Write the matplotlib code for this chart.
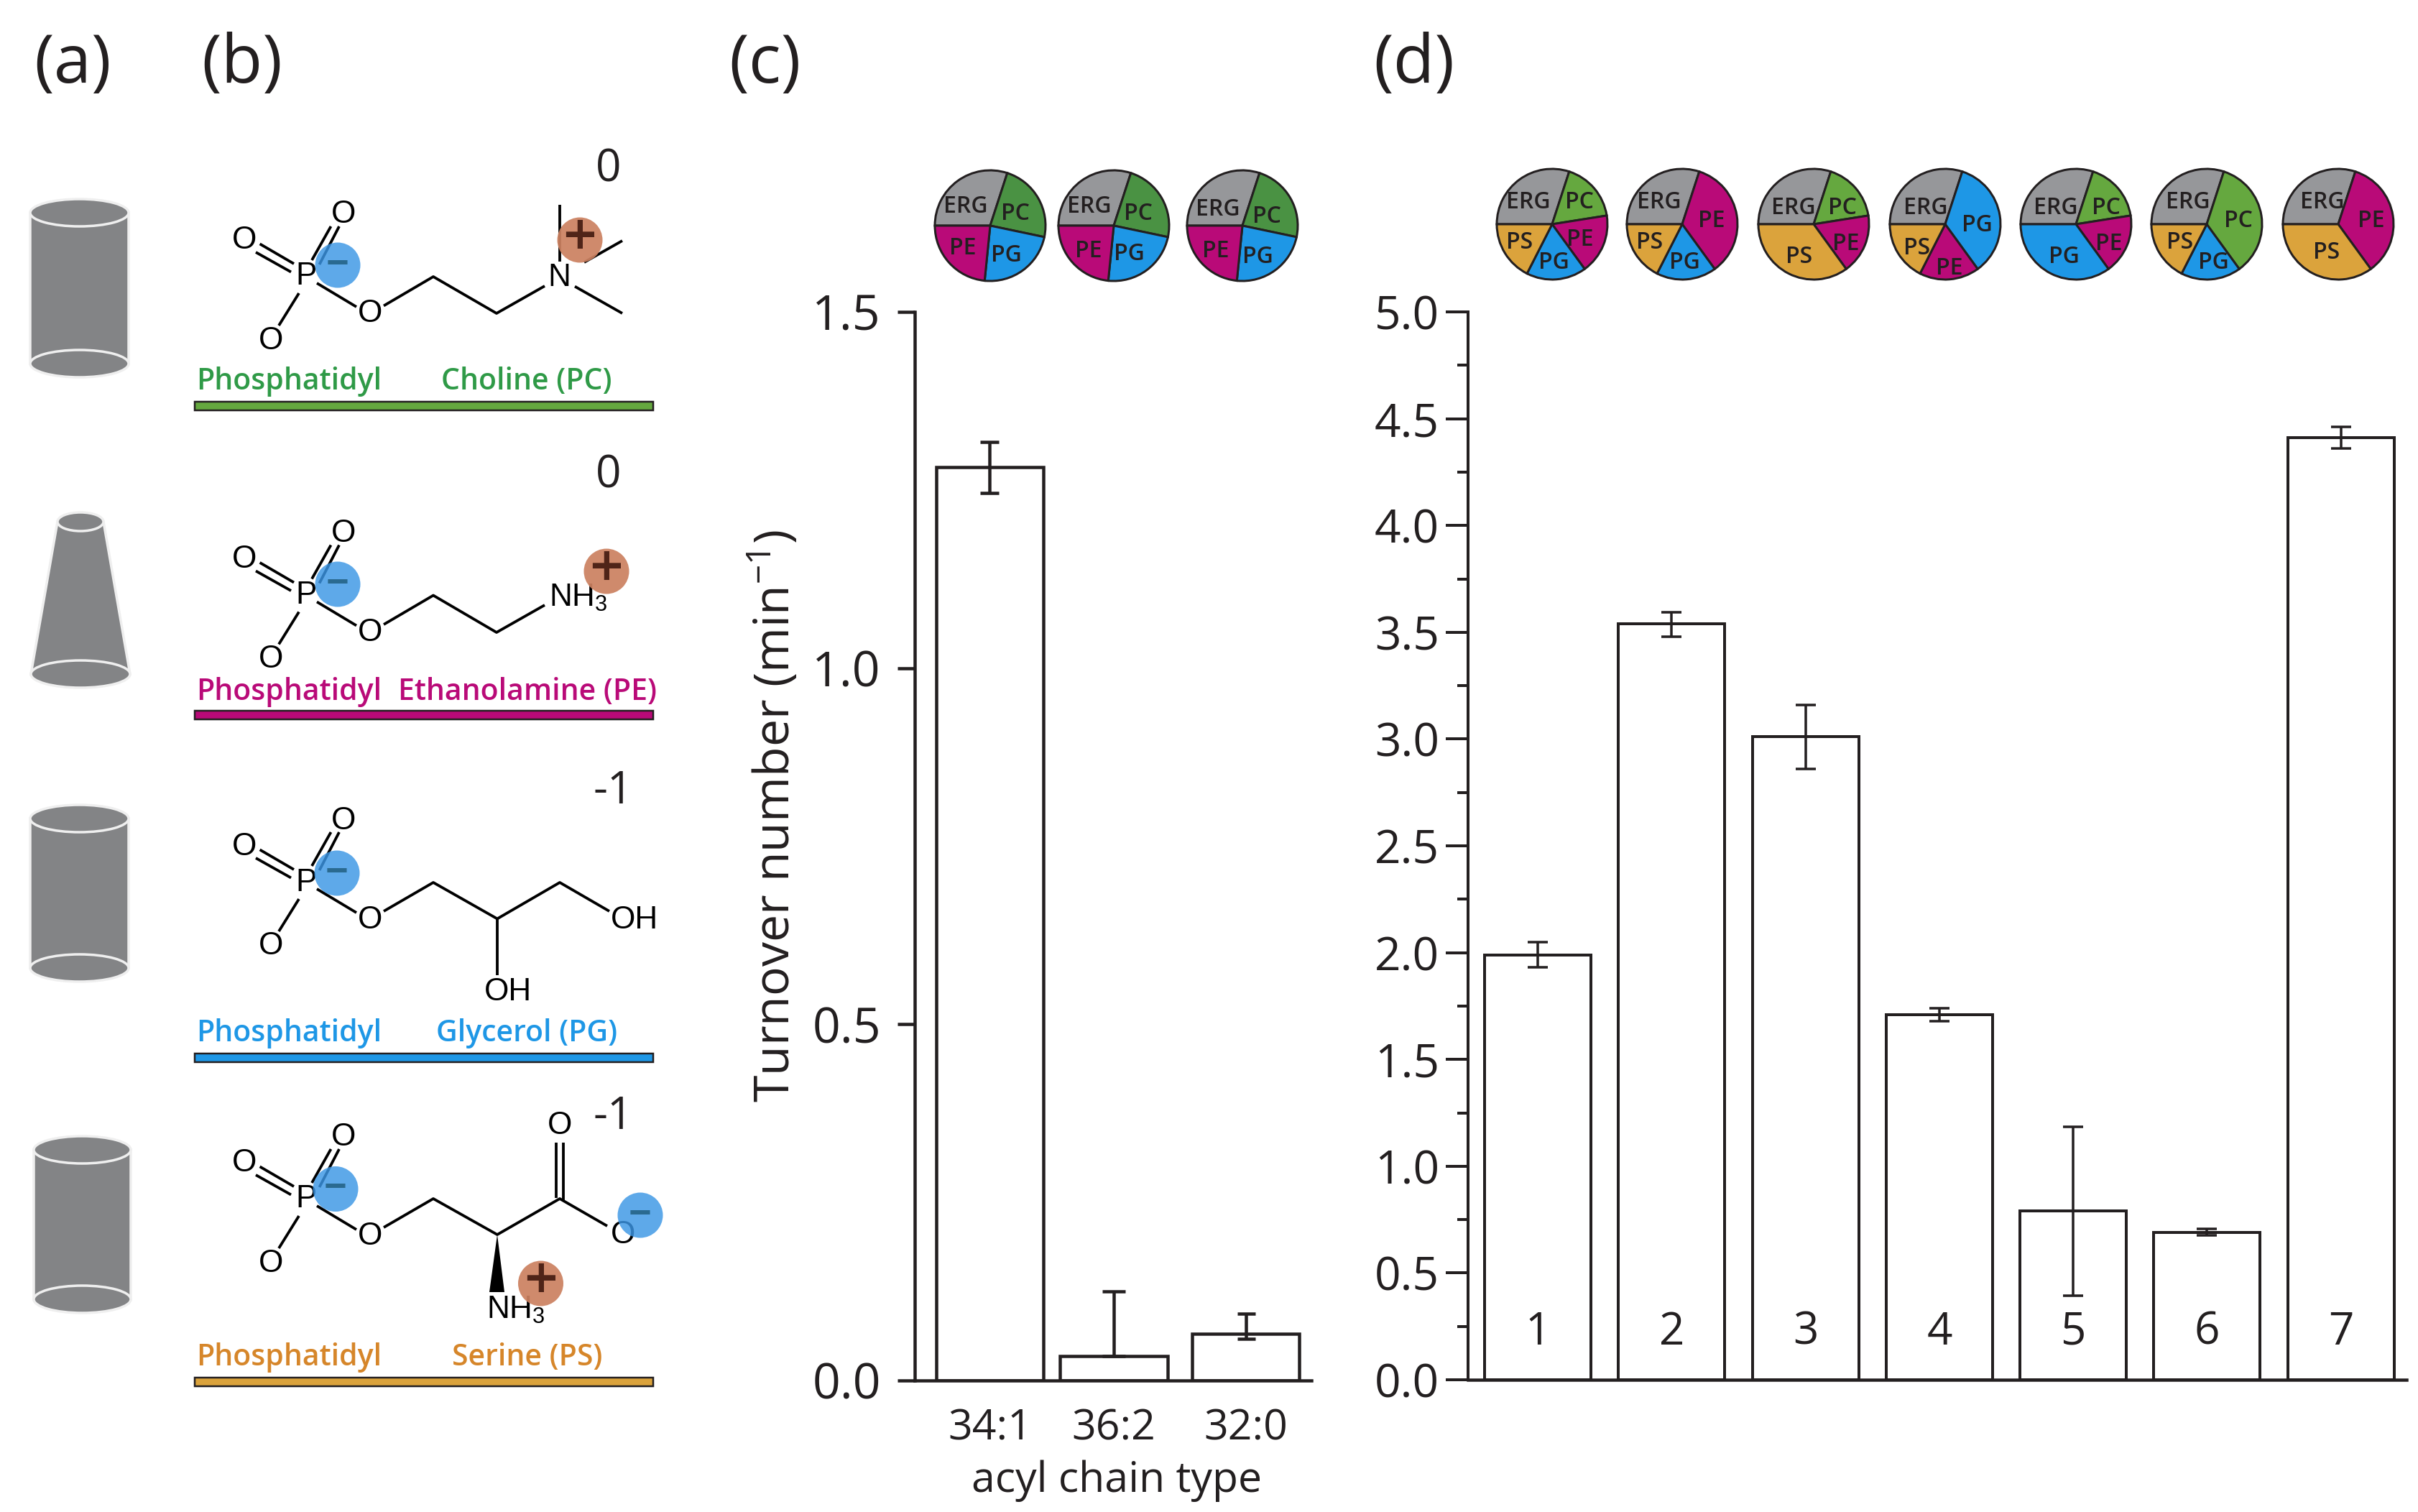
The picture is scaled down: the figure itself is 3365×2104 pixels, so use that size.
import matplotlib
matplotlib.use('Agg')
import matplotlib.pyplot as plt
from matplotlib.patches import Ellipse, Polygon, Circle, Rectangle

plt.rcParams['font.family'] = ['Open Sans', 'DejaVu Sans']
plt.rcParams['mathtext.default'] = 'regular'

W, H = 3366, 2104
PT = 0.72  # points per output pixel at dpi 100
INK = '#231f20'

# ---------- data ----------
chain_types = ['34:1', '36:2', '32:0']
chain_values = [1.282, 0.034, 0.066]
chain_err_low = [0.036, 0.0, 0.007]
chain_err_high = [0.035, 0.091, 0.028]
chain_ticks = [0.0, 0.5, 1.0, 1.5]

mix_ids = [1, 2, 3, 4, 5, 6, 7]
mix_values = [1.99, 3.54, 3.01, 1.71, 0.79, 0.69, 4.41]
mix_err_low = [0.06, 0.06, 0.15, 0.03, 0.397, 0.015, 0.05]
mix_err_high = [0.06, 0.055, 0.15, 0.03, 0.395, 0.015, 0.05]
mix_major = [0.0, 0.5, 1.0, 1.5, 2.0, 2.5, 3.0, 3.5, 4.0, 4.5, 5.0]
mix_minor = [0.25, 0.75, 1.25, 1.75, 2.25, 2.75, 3.25, 3.75, 4.25, 4.75]

lipid_colors = {'ERG': '#96979a', 'PC': '#65a83f', 'PE': '#b90a78',
                'PG': '#1e97e6', 'PS': '#dba33c'}
pie_c_lipids = ['ERG', 'PC', 'PG', 'PE']
pie_c_share = [30.0, 23.3, 23.3, 23.4]
pie_d_lipids = [
    ['ERG', 'PC', 'PE', 'PG', 'PS'],
    ['ERG', 'PE', 'PG', 'PS'],
    ['ERG', 'PC', 'PE', 'PS'],
    ['ERG', 'PG', 'PE', 'PS'],
    ['ERG', 'PC', 'PE', 'PG'],
    ['ERG', 'PC', 'PG', 'PS'],
    ['ERG', 'PE', 'PS'],
]
pie_d_share = [
    [30, 17.5, 17.5, 17.5, 17.5],
    [30, 35, 17.5, 17.5],
    [30, 17.5, 17.5, 35],
    [30, 35, 17.5, 17.5],
    [30, 17.5, 17.5, 35],
    [30, 35, 17.5, 17.5],
    [30, 35, 35],
]

fig = plt.figure(figsize=(W / 100, H / 100), dpi=100, facecolor='white')


def axes_px(x0, y0, x1, y1, **kw):
    return fig.add_axes([x0 / W, 1 - y1 / H, (x1 - x0) / W, (y1 - y0) / H], **kw)


# ---------- panel (c) ----------
ax = axes_px(1273, 434, 1825, 1921)
pos_c = [0, 0.97, 2.0]
ax.bar(pos_c, chain_values, width=0.84, facecolor='white', edgecolor=INK, linewidth=4.5 * PT, zorder=2)
for k, cap in enumerate((13.5, 16, 12.5)):
    ax.errorbar(pos_c[k], chain_values[k], yerr=[[chain_err_low[k]], [chain_err_high[k]]], color=INK,
                elinewidth=4.5 * PT, capsize=cap * PT, capthick=4.5 * PT, zorder=3)
ax.set_xlim(-0.587, 2.514)
ax.set_ylim(0, 1.5)
ax.set_yticks(chain_ticks, [f'{v:.1f}' for v in chain_ticks])
ax.set_xticks(pos_c, chain_types)
ax.tick_params(axis='y', length=24 * PT, width=4.5 * PT, labelsize=68 * PT, pad=23 * PT, color=INK, labelcolor=INK)
ax.tick_params(axis='x', length=0, labelsize=59 * PT, pad=38 * PT, labelcolor=INK)
ax.set_xlabel('acyl chain type', fontsize=59 * PT, color=INK)
ax.xaxis.set_label_coords((1554 - 1273) / (1825 - 1273), -(2031 - 1921) / (1921 - 434))
ax.set_ylabel('Turnover number (min$^{-1}$)', fontsize=68 * PT, color=INK)
ax.yaxis.set_label_coords((1115 - 1273) / (1825 - 1273), (1921 - 1136) / (1921 - 434))
for s in ('top', 'right'):
    ax.spines[s].set_visible(False)
for s in ('left', 'bottom'):
    ax.spines[s].set_linewidth(4.5 * PT)
    ax.spines[s].set_color(INK)
ax.patch.set_alpha(0)

# ---------- panel (d) ----------
ax = axes_px(2043, 434, 3349, 1920)
ax.bar(mix_ids, mix_values, width=0.794, facecolor='white', edgecolor=INK, linewidth=4 * PT, zorder=2)
ax.errorbar(mix_ids, mix_values, yerr=[mix_err_low, mix_err_high], fmt='none', ecolor=INK,
            elinewidth=3.5 * PT, capsize=14 * PT, capthick=3.5 * PT, zorder=3)
for i in mix_ids:
    ax.text(i, 0.22, str(i), ha='center', va='center', fontsize=62 * PT, color=INK, zorder=4)
ax.set_xlim(0.479, 7.49)
ax.set_ylim(0, 5)
ax.set_xticks([])
ax.set_yticks(mix_major, [f'{v:.1f}' for v in mix_major])
ax.set_yticks(mix_minor, minor=True)
ax.tick_params(axis='y', which='major', length=31 * PT, width=4 * PT, labelsize=64 * PT, pad=9 * PT, color=INK, labelcolor=INK)
ax.tick_params(axis='y', which='minor', length=15 * PT, width=4 * PT, color=INK)
for s in ('top', 'right'):
    ax.spines[s].set_visible(False)
ax.spines['left'].set_linewidth(4 * PT)
ax.spines['left'].set_color(INK)
ax.spines['bottom'].set_linewidth(4.5 * PT)
ax.spines['bottom'].set_color(INK)
ax.patch.set_alpha(0)


# ---------- pies ----------
def pie_at(cx, cy, lipids, share, overrides=None):
    r = 77 * 1.04
    a = axes_px(cx - r, cy - r, cx + r, cy + r)
    cols = [lipid_colors[n] for n in lipids]
    if overrides:
        cols = [overrides.get(n, c) for n, c in zip(lipids, cols)]
    a.pie(share, colors=cols, startangle=180, counterclock=False, radius=1.0,
          wedgeprops=dict(edgecolor=INK, linewidth=3 * PT))
    a.set_xlim(-1.04, 1.04)
    a.set_ylim(-1.04, 1.04)


for cx in (1378, 1550, 1729):
    pie_at(cx, 314, pie_c_lipids, pie_c_share, overrides={'PC': '#4a9243'})
for cx, names, share in zip((2160, 2341, 2524, 2707, 2889, 3071, 3254), pie_d_lipids, pie_d_share):
    pie_at(cx, 312, names, share)

# ---------- overlay drawn in image pixels ----------
ov = fig.add_axes([0, 0, 1, 1], zorder=20)
ov.set_xlim(0, W)
ov.set_ylim(H, 0)
ov.axis('off')
ov.patch.set_alpha(0)

pie_labels = [
    ('ERG', 1344, 284), ('PC', 1413, 293), ('PE', 1340, 342), ('PG', 1400, 351),
    ('ERG', 1516, 284), ('PC', 1584, 293), ('PE', 1515, 346), ('PG', 1571, 350),
    ('ERG', 1695, 287), ('PC', 1763, 297), ('PE', 1692, 346), ('PG', 1750, 353),
    ('ERG', 2127, 278), ('PC', 2198, 278), ('PS', 2115, 334), ('PE', 2199, 329), ('PG', 2162, 362),
    ('ERG', 2309, 278), ('PE', 2382, 303), ('PS', 2296, 334), ('PG', 2344, 362),
    ('ERG', 2496, 286), ('PC', 2564, 286), ('PE', 2569, 335), ('PS', 2504, 353),
    ('ERG', 2680, 286), ('PG', 2751, 309), ('PS', 2668, 342), ('PE', 2713, 369),
    ('ERG', 2861, 286), ('PC', 2931, 286), ('PE', 2935, 336), ('PG', 2872, 353),
    ('ERG', 3045, 278), ('PC', 3115, 303), ('PS', 3034, 334), ('PG', 3080, 362),
    ('ERG', 3232, 278), ('PE', 3300, 303), ('PS', 3238, 347),
]
for s, x, y in pie_labels:
    ov.text(x, y + 4, s, ha='center', va='center', fontsize=32 * PT, color=INK, weight=600)

for s, x in (('(a)', 101), ('(b)', 337), ('(c)', 1065), ('(d)', 1968)):
    ov.text(x, 90, s, ha='center', va='center', fontsize=94 * PT, color=INK)

# lipid shapes
GREY, RIM = '#838486', '#efefef'


def shape(xt0, xt1, yt, hht, xb0, xb1, yb, hhb):
    ov.add_patch(Polygon([(xt0, yt), (xt1, yt), (xb1, yb), (xb0, yb)], closed=True, fc=GREY, ec=RIM, lw=3.5 * PT))
    ov.add_patch(Ellipse(((xb0 + xb1) / 2, yb), xb1 - xb0, 2 * hhb, fc=GREY, ec=RIM, lw=3.5 * PT))
    ov.add_patch(Ellipse(((xt0 + xt1) / 2, yt), xt1 - xt0, 2 * hht, fc=GREY, ec=RIM, lw=3.5 * PT))


shape(42, 179, 296, 19, 42, 179, 506, 19)
shape(80, 144, 726, 13, 43, 181, 938, 19)
shape(42, 179, 1139, 19, 42, 179, 1347, 19)
shape(47, 182, 1600, 19, 47, 182, 1808, 19)

ATOM = dict(ha='center', va='center', fontsize=44 * PT, family='Liberation Sans', color='black', zorder=5)
BOND = dict(color='black', lw=3.8 * PT, solid_capstyle='butt', zorder=4)


def bond(*pts):
    ov.plot([p[0] for p in pts], [p[1] for p in pts], **BOND)


def charge(x, y, kind):
    if kind == '-':
        ov.add_patch(Circle((x, y), 31.5, fc='#3b96e5', ec='none', alpha=0.82, zorder=6))
        ov.text(x, y + 1, '\u2212', ha='center', va='center', fontsize=56 * PT, weight='bold', color='#2a6a90', zorder=7)
    else:
        ov.add_patch(Circle((x, y), 31.5, fc='#cc8161', ec='none', alpha=0.93, zorder=6))
        ov.text(x, y, '+', ha='center', va='center', fontsize=82 * PT, weight=600, color='#4f2418', zorder=7)


def head(dy):
    for s, x, y in (('O', 478, 299), ('O', 340, 335), ('P', 426, 385), ('O', 377, 474), ('O', 515, 437)):
        ov.text(x, y + dy, s, **ATOM)
    bond((434, 362 + dy), (460.5, 315 + dy))
    bond((444.5, 368 + dy), (472, 315 + dy))
    bond((405, 378.5 + dy), (356, 351 + dy))
    bond((409, 367 + dy), (361.6, 339.4 + dy))
    bond((416, 408 + dy), (388, 453 + dy))
    bond((441, 394 + dy), (496, 427 + dy))


# PC
head(0)
bond((534, 425.5), (603, 385), (691, 436), (758, 398))
ov.text(778, 386.5, 'N', **ATOM)
bond((779, 285), (779, 363.5))
bond((813, 365), (866, 335))
bond((800, 398.6), (866, 436))
charge(470, 369, '-')
charge(807, 334, '+')
# PE
head(443.5)
bond((534, 869), (603, 828.5), (691, 880), (758, 842))
ov.text(764, 832, 'NH$_3$', **{**ATOM, 'ha': 'left'})
charge(470, 813, '-')
charge(844, 795, '+')
# PG
head(843)
bond((534, 1268), (603, 1228), (692, 1278.5), (779, 1228), (848, 1268))
bond((692, 1278.5), (692, 1357))
ov.text(883, 1280, 'OH', **ATOM)
ov.text(707, 1381, 'OH', **ATOM)
charge(469, 1215, '-')
# PS
head(1284)
bond((534, 1708), (603, 1668), (692, 1718), (779, 1668), (845, 1706))
bond((773.6, 1589.6), (773.6, 1667))
bond((784.4, 1589.6), (784.4, 1672))
ov.text(779, 1566.6, 'O', **ATOM)
ov.text(867, 1719, 'O', **ATOM)
ov.add_patch(Polygon([(692, 1718), (681, 1798), (702, 1798)], closed=True, fc='black', ec='none', zorder=4))
ov.text(677, 1823, 'NH$_3$', **{**ATOM, 'ha': 'left'})
charge(467, 1654.5, '-')
charge(891, 1691, '-')
charge(752.5, 1786, '+')

# charge numbers
for s, x, y in (('0', 847, 236), ('0', 847, 662), ('-1', 853, 1102), ('-1', 853, 1555)):
    ov.text(x, y, s, ha='center', va='center', fontsize=62 * PT, color=INK)

# name rows
rows = [
    ('Choline (PC)', 531, 733, 559, 571, '#2f9a47', '#65a83f'),
    ('Ethanolamine (PE)', 963, 734, 989, 1001, '#b90a78', '#b90a78'),
    ('Glycerol (PG)', 1438, 733, 1466, 1478, '#1e97e6', '#1e97e6'),
    ('Serine (PS)', 1889, 734, 1917, 1929, '#d6862a', '#dba33c'),
]
for name, y, xc, b0, b1, tc, bc in rows:
    ov.text(273, y, 'Phosphatidyl', ha='left', va='center', fontsize=41 * PT, color=tc, weight=600)
    ov.text(xc, y, name, ha='center', va='center', fontsize=41 * PT, color=tc, weight=600)
    ov.add_patch(Rectangle((271, b0), 638, b1 - b0, fc=bc, ec=INK, lw=2.5 * PT))

fig.savefig('out.png', dpi=100, facecolor='white')
